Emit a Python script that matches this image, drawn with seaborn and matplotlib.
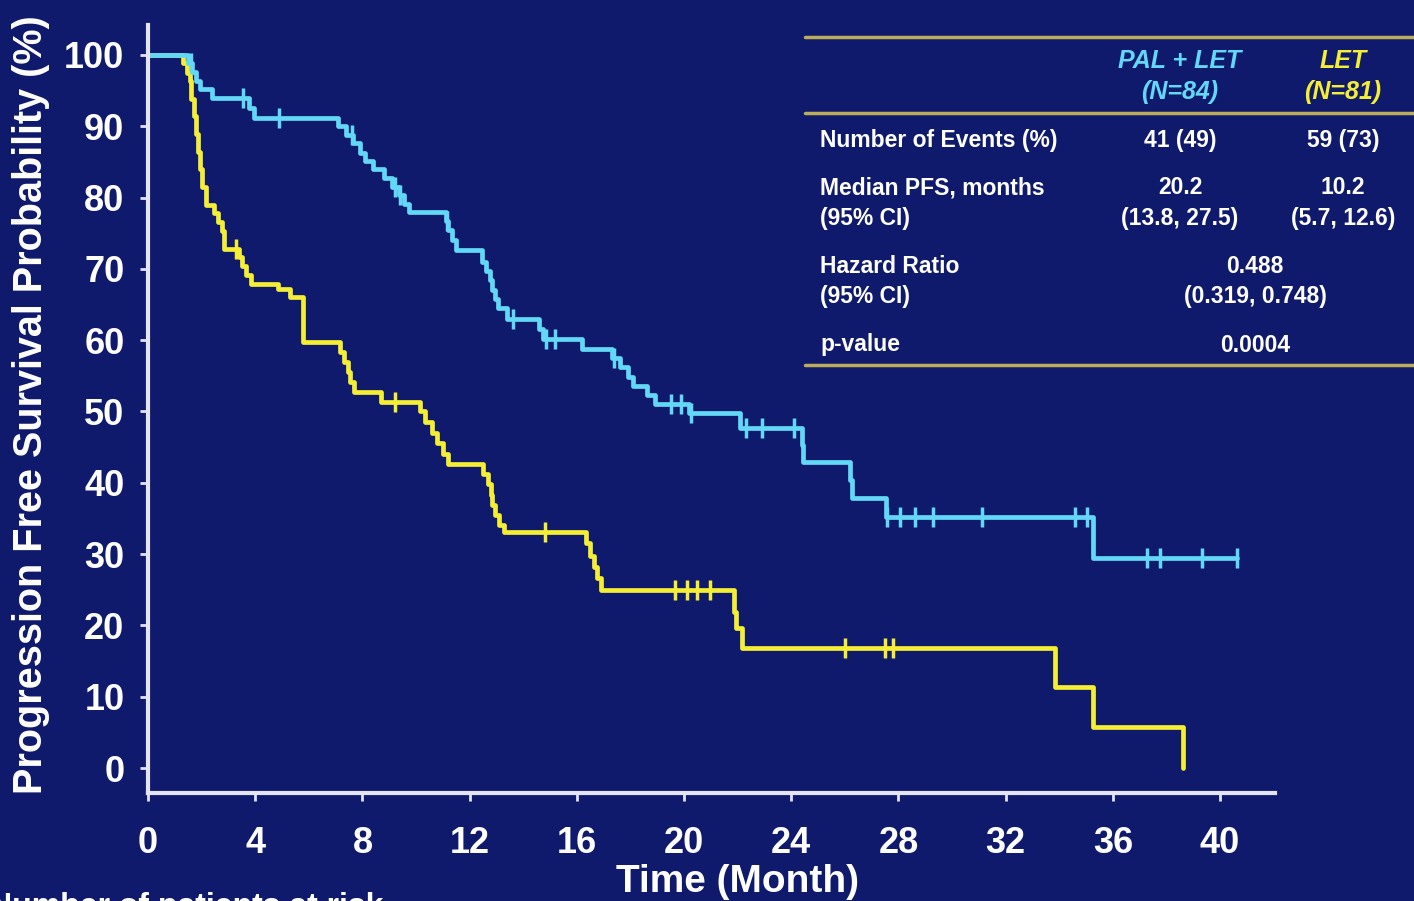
import numpy as np
import pandas as pd
import matplotlib.pyplot as plt
from matplotlib.lines import Line2D
import seaborn as sns

# Kaplan-Meier step data (time in months, survival in %)
pal_let_time = [0, 1.5, 1.65, 1.8, 1.95, 2.4, 3.75, 3.95,
                7.1, 7.4, 7.65, 7.9, 8.1, 8.4, 8.8, 9.1, 9.35, 9.55, 9.75,
                11.1, 11.2, 11.35, 11.5,
                12.45, 12.6, 12.75, 12.85, 12.95, 13.05, 13.4, 14.6, 14.75,
                16.2, 17.3, 17.6, 17.9, 18.1, 18.6, 18.9, 20.2, 22.1,
                24.4, 24.45, 26.2, 26.25, 27.55, 35.25, 40.63]
pal_let_surv = [100, 98.8, 97.6, 96.4, 95.2, 94.0, 92.6, 91.2,
                90.0, 88.8, 87.6, 86.3, 85.1, 84.0, 82.7, 81.5, 80.3, 79.1, 78.0,
                76.7, 75.4, 74.1, 72.7,
                71.0, 69.7, 68.4, 67.1, 65.8, 64.5, 63.0, 61.5, 60.2,
                58.8, 57.5, 56.2, 54.9, 53.6, 52.3, 51.1, 49.8, 47.7,
                45.3, 42.9, 40.4, 37.9, 35.2, 29.5, 29.5]
pal_let_censor = [1.6, 3.55, 4.9, 7.6, 9.2, 9.4, 11.15, 13.6, 14.85, 15.2,
                  17.4, 19.5, 19.9, 20.25, 22.3, 22.9, 24.1,
                  27.57, 28.06, 28.62, 29.29, 31.12, 34.59, 35.04,
                  37.28, 37.76, 39.33, 40.63]

let_time = [0, 1.3, 1.45, 1.55, 1.62, 1.7, 1.78, 1.86, 1.94, 2.02, 2.15,
            2.45, 2.62, 2.75, 2.85, 3.4, 3.5, 3.65, 3.85, 4.85, 5.3, 5.8,
            7.15, 7.3, 7.45, 7.55, 7.7, 8.7,
            10.15, 10.35, 10.6, 10.8, 11.0, 11.2,
            12.5, 12.7, 12.8, 12.85, 12.95, 13.1, 13.3,
            16.35, 16.5, 16.65, 16.75, 16.9,
            21.85, 21.95, 22.15, 33.85, 35.25, 38.6]
let_surv = [100, 98.8, 97.5, 96.3, 93.8, 91.4, 88.9, 86.4, 84.0, 81.5, 79.0,
            77.8, 76.5, 75.3, 72.8, 71.6, 70.4, 69.1, 67.9, 67.2, 66.0, 59.7,
            58.3, 56.9, 55.5, 54.1, 52.7, 51.3,
            50.0, 48.5, 47.0, 45.6, 44.1, 42.7,
            41.2, 39.8, 38.3, 36.9, 35.5, 34.1, 33.1,
            31.5, 29.8, 28.2, 26.6, 25.0,
            21.9, 19.6, 16.8, 11.3, 5.8, 0]
let_censor = [3.3, 9.2, 14.8, 19.66, 20.1, 20.5, 20.97, 26.0, 27.5, 27.8]

x_ticks = [0, 4, 8, 12, 16, 20, 24, 28, 32, 36, 40]
y_ticks = [0, 10, 20, 30, 40, 50, 60, 70, 80, 90, 100]

bg = "#101a6c"
cyan = "#62d8f6"
yellow = "#f4ee34"
axis_col = "#e4e4f4"
rule_col = "#bcad5a"


def censor_frame(times, surv, cens):
    # survival level of the step in force at each censoring time
    idx = np.searchsorted(times, cens, side="right") - 1
    return pd.DataFrame({"time": cens, "surv": np.asarray(surv)[idx]})


sns.set_theme(style="white")
plt.rcParams["font.family"] = ["Liberation Sans", "DejaVu Sans"]
plt.rcParams["font.weight"] = "bold"

fig = plt.figure(figsize=(14.14, 9.01), dpi=100)
fig.patch.set_facecolor(bg)
ax = fig.add_axes([0.1047, 0.1199, 0.797, 0.8524])
ax.set_facecolor(bg)

pal_df = pd.DataFrame({"time": pal_let_time, "surv": pal_let_surv})
let_df = pd.DataFrame({"time": let_time, "surv": let_surv})

sns.lineplot(data=let_df, x="time", y="surv", color=yellow, lw=3.4,
             drawstyle="steps-post", estimator=None, sort=False, ax=ax)
sns.lineplot(data=pal_df, x="time", y="surv", color=cyan, lw=3.4,
             drawstyle="steps-post", estimator=None, sort=False, ax=ax)

sns.scatterplot(data=censor_frame(let_time, let_surv, let_censor), x="time", y="surv",
                marker="|", s=220, linewidth=2.5, color=yellow, ax=ax, zorder=3)
sns.scatterplot(data=censor_frame(pal_let_time, pal_let_surv, pal_let_censor), x="time", y="surv",
                marker="|", s=220, linewidth=2.5, color=cyan, ax=ax, zorder=3)

ax.set_xlim(0, 42.05)
ax.set_ylim(-3.5, 104.2)
ax.set_xticks(x_ticks)
ax.set_yticks(y_ticks)
ax.tick_params(colors=axis_col, labelcolor="white", labelsize=26, length=6, width=2,
               bottom=True, left=True)
ax.tick_params(axis="x", pad=18)
ax.tick_params(axis="y", pad=11)
for lab in ax.get_xticklabels() + ax.get_yticklabels():
    lab.set_fontweight("bold")
for side in ["top", "right"]:
    ax.spines[side].set_visible(False)
for side in ["left", "bottom"]:
    ax.spines[side].set_color(axis_col)
    ax.spines[side].set_linewidth(3)

ax.set_xlabel("Time (Month)", color="white", fontsize=28, fontweight="bold")
ax.set_ylabel("Progression Free Survival Probability (%)", color="white",
              fontsize=28.5, fontweight="bold")
ax.xaxis.set_label_coords(0.523, -0.093)
ax.yaxis.set_label_coords(-0.087, 0.505)

fig.text(-0.008, -0.016, "Number of patients at risk", color="white",
         fontsize=23, fontweight="bold", ha="left", va="baseline")


# summary table in the upper right, placed in pixel terms of the 1414x901 canvas
def fx(px):
    return px / 1414


def fy(py):
    return 1 - py / 901


for py in [37, 113, 365]:
    fig.add_artist(Line2D([fx(805), fx(1414)], [fy(py), fy(py)], color=rule_col, lw=2.5))

tsize = 16.5
hsize = 18
fig.text(fx(1180), fy(61), "PAL + LET", color=cyan, fontsize=hsize, fontstyle="italic",
         fontweight="bold", ha="center", va="center")
fig.text(fx(1180), fy(92), "(N=84)", color=cyan, fontsize=hsize, fontstyle="italic",
         fontweight="bold", ha="center", va="center")
fig.text(fx(1343), fy(61), "LET", color=yellow, fontsize=hsize, fontstyle="italic",
         fontweight="bold", ha="center", va="center")
fig.text(fx(1343), fy(92), "(N=81)", color=yellow, fontsize=hsize, fontstyle="italic",
         fontweight="bold", ha="center", va="center")

row_labels = ["Number of Events (%)", "Median PFS, months", "(95% CI)",
              "Hazard Ratio", "(95% CI)", "p-value"]
row_y = [140, 188, 218, 266, 297, 345]
for lab, py in zip(row_labels, row_y):
    fig.text(fx(820), fy(py), lab, color="white", fontsize=tsize, fontweight="bold",
             ha="left", va="center")

pal_vals = ["41 (49)", "20.2", "(13.8, 27.5)"]
let_vals = ["59 (73)", "10.2", "(5.7, 12.6)"]
for v1, v2, py in zip(pal_vals, let_vals, row_y[:3]):
    fig.text(fx(1180), fy(py), v1, color="white", fontsize=tsize, fontweight="bold",
             ha="center", va="center")
    fig.text(fx(1343), fy(py), v2, color="white", fontsize=tsize, fontweight="bold",
             ha="center", va="center")

joint_vals = ["0.488", "(0.319, 0.748)", "0.0004"]
for v, py in zip(joint_vals, row_y[3:]):
    fig.text(fx(1255), fy(py), v, color="white", fontsize=tsize, fontweight="bold",
             ha="center", va="center")

fig.savefig("out.png", dpi=100, facecolor=bg)
